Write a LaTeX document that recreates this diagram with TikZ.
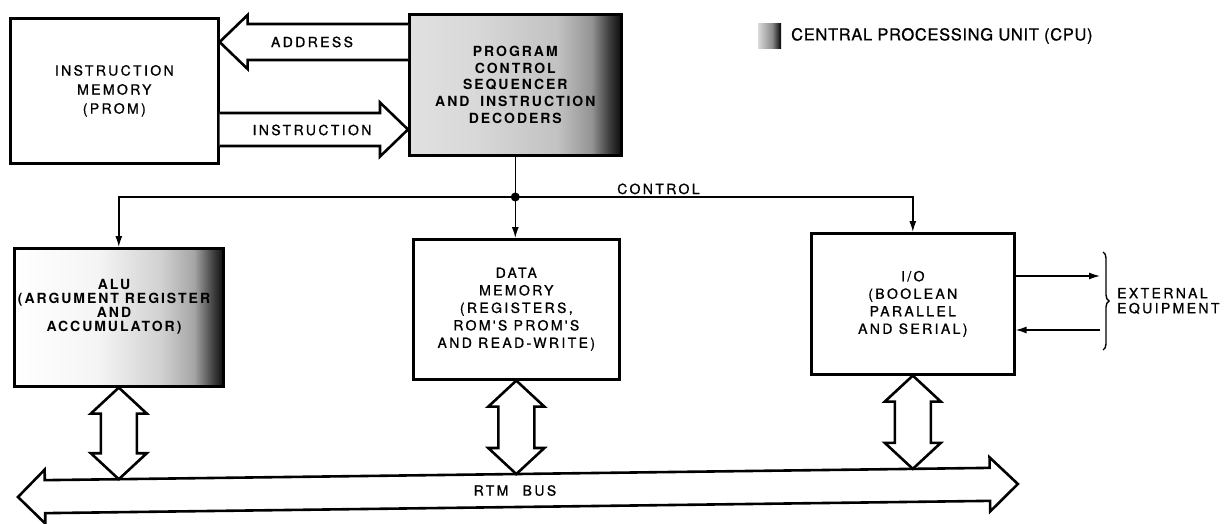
\documentclass[tikz,border=0pt]{standalone}
\usepackage{fontspec}
\setmainfont{TeX Gyre Heros}
\newfontfamily\lblfont{TeX Gyre Heros}[LetterSpace=17, FakeBold=1]
\newfontfamily\boldlbl{TeX Gyre Heros}[LetterSpace=14]
\newfontfamily\legfont{TeX Gyre Heros}[LetterSpace=4, FakeBold=1]
\usetikzlibrary{arrows.meta,calc,decorations.pathreplacing}
\newcommand\nfont{\lblfont\fontsize{14pt}{17.5pt}\selectfont}
\newcommand\imfont{\lblfont\fontsize{14pt}{19pt}\selectfont}
\newcommand\extfont{\lblfont\fontsize{14pt}{15pt}\selectfont}
\newcommand\pcsfont{\boldlbl\bfseries\fontsize{14pt}{16.8pt}\selectfont}
\newcommand\alufont{\boldlbl\bfseries\fontsize{14pt}{14pt}\selectfont}
\newcommand\legf{\legfont\fontsize{16.5pt}{19pt}\selectfont}
\pgfdeclarehorizontalshading{alushade}{100bp}{color(0bp)=(white); color(25bp)=(white); color(45bp)=(black!4); color(60bp)=(black!18); color(68bp)=(black!35); color(72bp)=(black!70); color(75bp)=(black!95); color(100bp)=(black!95)}
\pgfdeclarehorizontalshading{pcsshade}{100bp}{color(0bp)=(black!12); color(25bp)=(black!12); color(40bp)=(black!15); color(60bp)=(black!24); color(68bp)=(black!42); color(72bp)=(black!75); color(75bp)=(black!95); color(100bp)=(black!95)}
\pgfdeclarehorizontalshading{legshade}{100bp}{color(0bp)=(black!15); color(25bp)=(black!15); color(55bp)=(black!45); color(68bp)=(black!80); color(75bp)=(black); color(100bp)=(black)}
\newcommand\vdarrow[2]{\draw[fat] (#1) -- ++(28,26) -- ++(-10,0) -- ($(#2)+(18,-26)$) -- ++(10,0) -- (#2) -- ++(-28,-26) -- ++(10,0) -- ($(#1)+(-18,26)$) -- ++(-10,0) -- cycle;}
\begin{document}
\begin{tikzpicture}[x=1pt,y=-1pt,
  box/.style={draw, line width=2.6pt, anchor=north west, inner sep=0pt, align=center, font=\nfont},
  fat/.style={draw, line width=2.6pt, line join=miter, miter limit=10, fill=white},
  cline/.style={line width=1.4pt},
  arr/.style={cline, -{Latex[length=11pt,width=7pt]}},
  lab/.style={inner sep=0pt, font=\nfont}]
\path[use as bounding box, fill=white] (0,0) rectangle (1228,524);

% boxes
\node[box, minimum width=208pt, minimum height=145pt, font=\imfont] (im) at (9,17) {INSTRUCTION\\MEMORY\\(PROM)};
\node[box, shade, shading=pcsshade, minimum width=212pt, minimum height=141pt, font=\pcsfont] (pcs) at (408,13) {PROGRAM\\CONTROL\\SEQUENCER\\AND\hspace{5pt} INSTRUCTION\\DECODERS};
\node[box, shade, shading=alushade, minimum width=209pt, minimum height=138pt] (alu) at (13,247) {};
\node[lab, align=center, font=\alufont] (alut) at (114,307) {ALU\\(ARGUMENT REGISTER\\AND\\ACCUMULATOR)};
\node[box, minimum width=206pt, minimum height=140pt] (dm) at (412,238) {DATA\\MEMORY\\(REGISTERS,\\ROM'S PROM'S\\AND READ-WRITE)};
\node[box, minimum width=203pt, minimum height=141pt] (io) at (810,232) {I/O\\(BOOLEAN\\PARALLEL\\AND SERIAL)};

% address / instruction
\coordinate (adT) at (im.east |- 0,42);
\coordinate (adS) at (pcs.west |- 0,42);
\draw[fat] ($(adS)+(0,-18)$) -- ($(adT)+(28,-18)$) -- ++(0,-9) -- (adT) -- ($(adT)+(28,27)$) -- ++(0,-9) -- ($(adS)+(0,18)$);
\node[lab] (adl) at (312,42) {ADDRESS};
\coordinate (inS) at (im.east |- 0,129.5);
\coordinate (inT) at (pcs.west |- 0,129.5);
\draw[fat] ($(inS)+(0,-16.5)$) -- ($(inT)+(-28,-16.5)$) -- ++(0,-10.5) -- (inT) -- ($(inT)+(-28,27)$) -- ++(0,-10.5) -- ($(inS)+(0,16.5)$);
\node[lab] (inl) at (312,130) {INSTRUCTION};

% control
\coordinate (jn) at (pcs.south |- 0,197);
\draw[cline] (pcs.south) -- (jn);
\draw[arr] (jn) -| (alu.north);
\draw[arr] (jn) -| (io.north);
\draw[arr] (jn) -- (jn |- dm.north);
\fill (jn) circle (4.5pt);
\node[lab, anchor=base west] (ctl) at (617,194) {CONTROL};

% external equipment
\coordinate (ex1) at (1100,276);
\coordinate (ex2) at (1100,330);
\draw[arr] (io.east |- ex1) -- (ex1);
\draw[arr] (ex2) -- (io.east |- ex2);
\coordinate (brT) at (1103,252);
\coordinate (brB) at (1103,350);
\draw[cline, decorate, decoration={brace, amplitude=6pt}] (brT) -- (brB);
\node[lab, anchor=west, align=left, font=\extfont] (ext) at (1117,301) {EXTERNAL\\EQUIPMENT};

% bus
\begin{scope}[shift={(18,497)}, rotate=0.745]
\draw[fat] (0,0) -- (27,-27) -- (27,-16.5) -- (972,-16.5) -- (972,-27) -- (1000,0) -- (972,27) -- (972,16.5) -- (27,16.5) -- (27,27) -- cycle;
\coordinate (busA) at (99,-16.5);
\coordinate (busB) at (497,-16.5);
\coordinate (busC) at (895,-16.5);
\node[lab] (rtm) at (497,0) {RTM\hspace{8pt} BUS};
\end{scope}

\coordinate (aluB) at (alu.south |- busA);
\coordinate (dmB) at (dm.south |- busB);
\coordinate (ioB) at (io.south |- busC);
\vdarrow{alu.south}{aluB}
\vdarrow{dm.south}{dmB}
\vdarrow{io.south}{ioB}

% legend
\node[shade, shading=legshade, minimum width=23pt, minimum height=25pt, anchor=north west, inner sep=0pt] (sw) at (758,23) {};
\node[anchor=west, inner sep=0pt, font=\legf] (legt) at (791,36) {CENTRAL PROCESSING UNIT (CPU)};
\end{tikzpicture}
\end{document}
